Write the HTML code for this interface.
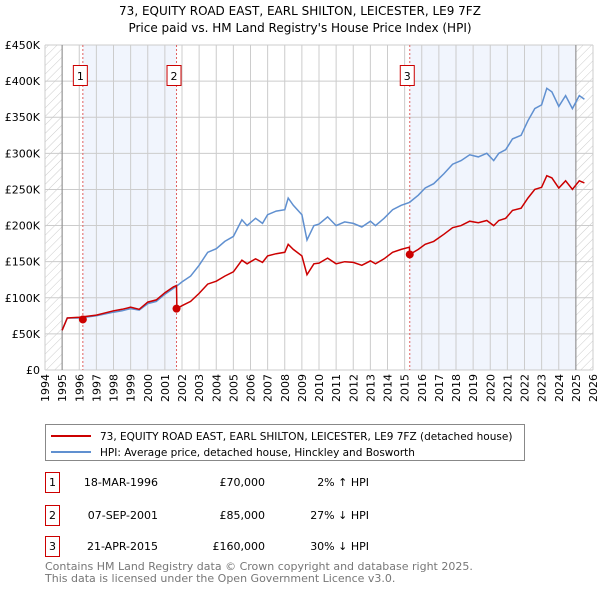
<!DOCTYPE html>
<html><head><meta charset="utf-8"><style>
body{margin:0;background:#fff;width:600px;height:590px;overflow:hidden;font-family:"DejaVu Sans","Liberation Sans",sans-serif}
</style></head><body>
<svg id="c" width="600" height="590" xmlns="http://www.w3.org/2000/svg" font-family="DejaVu Sans, Liberation Sans, sans-serif">
<defs><pattern id="hatch" width="6" height="6" patternUnits="userSpaceOnUse" patternTransform="rotate(45)"><line x1="0" y1="0" x2="0" y2="6" stroke="#ccc" stroke-width="1"/></pattern></defs>
<text x="300" y="15" text-anchor="middle" font-size="12">73, EQUITY ROAD EAST, EARL SHILTON, LEICESTER, LE9 7FZ</text>
<text x="300" y="32" text-anchor="middle" font-size="12">Price paid vs. HM Land Registry's House Price Index (HPI)</text>
<g id="plot"></g>
<g>
<rect x="45.5" y="424.5" width="479" height="36" fill="#fff" stroke="#888"/>
<line x1="51" y1="436" x2="91" y2="436" stroke="#cc0000" stroke-width="2"/>
<text x="100" y="440" font-size="10.5">73, EQUITY ROAD EAST, EARL SHILTON, LEICESTER, LE9 7FZ (detached house)</text>
<line x1="51" y1="452" x2="91" y2="452" stroke="#6090d0" stroke-width="2"/>
<text x="100" y="456" font-size="10.5">HPI: Average price, detached house, Hinckley and Bosworth</text>
</g>
<g font-size="11">
<g><rect x="45.5" y="472.5" width="14" height="20" fill="#fff" stroke="#cc0000"/><text x="52.5" y="486" text-anchor="middle">1</text><text x="158" y="486" text-anchor="end">18-MAR-1996</text><text x="265" y="486" text-anchor="end">£70,000</text><text x="369" y="486" text-anchor="end">2% ↑ HPI</text></g>
<g><rect x="45.5" y="505.5" width="14" height="20" fill="#fff" stroke="#cc0000"/><text x="52.5" y="519" text-anchor="middle">2</text><text x="158" y="519" text-anchor="end">07-SEP-2001</text><text x="265" y="519" text-anchor="end">£85,000</text><text x="369" y="519" text-anchor="end">27% ↓ HPI</text></g>
<g><rect x="45.5" y="536.5" width="14" height="20" fill="#fff" stroke="#cc0000"/><text x="52.5" y="550" text-anchor="middle">3</text><text x="158" y="550" text-anchor="end">21-APR-2015</text><text x="265" y="550" text-anchor="end">£160,000</text><text x="369" y="550" text-anchor="end">30% ↓ HPI</text></g>
</g>
<text x="45" y="570" font-size="11" fill="#777">Contains HM Land Registry data © Crown copyright and database right 2025.</text>
<text x="45" y="582" font-size="11" fill="#777">This data is licensed under the Open Government Licence v3.0.</text>
</svg>
<script>
const years=[1995.0,1995.3,1996.0,1997.0,1998.0,1998.5,1999.0,1999.5,2000.0,2000.5,2001.0,2001.5,2001.68,2001.7,2002.0,2002.5,2003.0,2003.5,2004.0,2004.5,2005.0,2005.5,2005.8,2006.3,2006.7,2007.0,2007.5,2008.0,2008.2,2008.5,2009.0,2009.3,2009.7,2010.0,2010.5,2011.0,2011.5,2012.0,2012.5,2013.0,2013.3,2013.8,2014.3,2014.8,2015.28,2015.3,2015.8,2016.2,2016.7,2017.3,2017.8,2018.3,2018.8,2019.3,2019.8,2020.2,2020.5,2020.9,2021.3,2021.8,2022.2,2022.6,2023.0,2023.3,2023.6,2024.0,2024.4,2024.8,2025.2,2025.5];
const hpi=[55,72,72,75,80,82,85,83,92,95,105,113,116,116.5,122,130,145,163,168,178,185,208,200,210,203,215,220,222,238,228,215,180,200,202,212,200,205,203,198,206,200,210,222,228,232,232.5,242,252,258,272,285,290,298,295,300,290,300,305,320,325,345,362,367,390,385,365,380,362,380,375];
const price=[55,72,73,76,82,84,87,84,94,97,107,115,117,85,89,95,106,119,123,130,136,152,147,154,149,158,161,163,174,167,158,132,147,148,155,147,150,149,145,151,147,154,163,167,170,160,167,174,178,188,197,200,206,204,207,200,207,210,221,224,238,250,253,269,266,252,262,250,262,259];
const saleYears=[1996.21,2001.68,2015.30];
const salePrices=[70,85,160];
const yTicks=[0,50,100,150,200,250,300,350,400,450];
const yTickLabels=["£0","£50K","£100K","£150K","£200K","£250K","£300K","£350K","£400K","£450K"];
const xTicks=[1994,1995,1996,1997,1998,1999,2000,2001,2002,2003,2004,2005,2006,2007,2008,2009,2010,2011,2012,2013,2014,2015,2016,2017,2018,2019,2020,2021,2022,2023,2024,2025,2026];
const X0=45,X1=593,Y0=370,Y1=45;
const xs=v=>X0+(v-1994)/(2026-1994)*(X1-X0);
const ys=v=>Y0-v/450*(Y0-Y1);
const NS="http://www.w3.org/2000/svg";
const g=document.getElementById('plot');
function mk(t,a,p){const e=document.createElementNS(NS,t);for(const k in a)e.setAttribute(k,a[k]);(p||g).appendChild(e);return e;}
const bg=mk('rect',{x:X0,y:Y1,width:X1-X0,height:Y0-Y1,fill:'#fff'});


const h1=mk('rect',{x:X0,y:Y1,width:xs(1995)-X0,height:Y0-Y1,fill:'url(#hatch)'});


const h2=mk('rect',{x:xs(2025),y:Y1,width:X1-xs(2025),height:Y0-Y1,fill:'url(#hatch)'});


const b1=mk('rect',{x:xs(saleYears[0]),y:Y1,width:xs(saleYears[1])-xs(saleYears[0]),height:Y0-Y1,fill:'#eef3fd',opacity:0.8});


const b2=mk('rect',{x:xs(saleYears[2]),y:Y1,width:xs(2025)-xs(saleYears[2]),height:Y0-Y1,fill:'#eef3fd',opacity:0.8});


xTicks.forEach(t=>{const l=mk('line',{x1:xs(t),x2:xs(t),y1:Y1,y2:Y0,stroke:'#ccc','stroke-width':1});


const tx=mk('text',{x:0,y:0,'font-size':11,'text-anchor':'end',transform:`translate(${xs(t)+4},${Y0+4}) rotate(-90)`});tx.textContent=t;

});
yTicks.forEach((t,i)=>{const l=mk('line',{x1:X0,x2:X1,y1:ys(t),y2:ys(t),stroke:'#ccc','stroke-width':1});


const tx=mk('text',{x:X0-5,y:ys(t)+4,'font-size':11,'text-anchor':'end'});tx.textContent=yTickLabels[i];

});
[1995,2025].forEach(t=>{const l=mk('line',{x1:xs(t),x2:xs(t),y1:Y1,y2:Y0,stroke:'#888','stroke-width':1});

});
saleYears.forEach((s,i)=>{const l=mk('line',{x1:xs(s),x2:xs(s),y1:Y1,y2:Y0,stroke:'#e06060','stroke-width':1,'stroke-dasharray':'2,2'});


const r=mk('rect',{x:xs(s)-9.5,y:65.5,width:14,height:20,fill:'#fff',stroke:'#cc0000'});


const tx=mk('text',{x:xs(s)-2.5,y:80,'font-size':11,'text-anchor':'middle'});tx.textContent=i+1;

});
const hp=mk('path',{d:years.map((y,i)=>(i?'L':'M')+xs(y).toFixed(1)+','+ys(hpi[i]).toFixed(1)).join(''),fill:'none',stroke:'#6090d0','stroke-width':1.5});


const pp=mk('path',{d:years.map((y,i)=>(i?'L':'M')+xs(y).toFixed(1)+','+ys(price[i]).toFixed(1)).join(''),fill:'none',stroke:'#cc0000','stroke-width':1.5});


saleYears.forEach((s,i)=>{const c=mk('circle',{cx:xs(s),cy:ys(salePrices[i]),r:4,fill:'#cc0000'});

});
</script>
</body></html>
